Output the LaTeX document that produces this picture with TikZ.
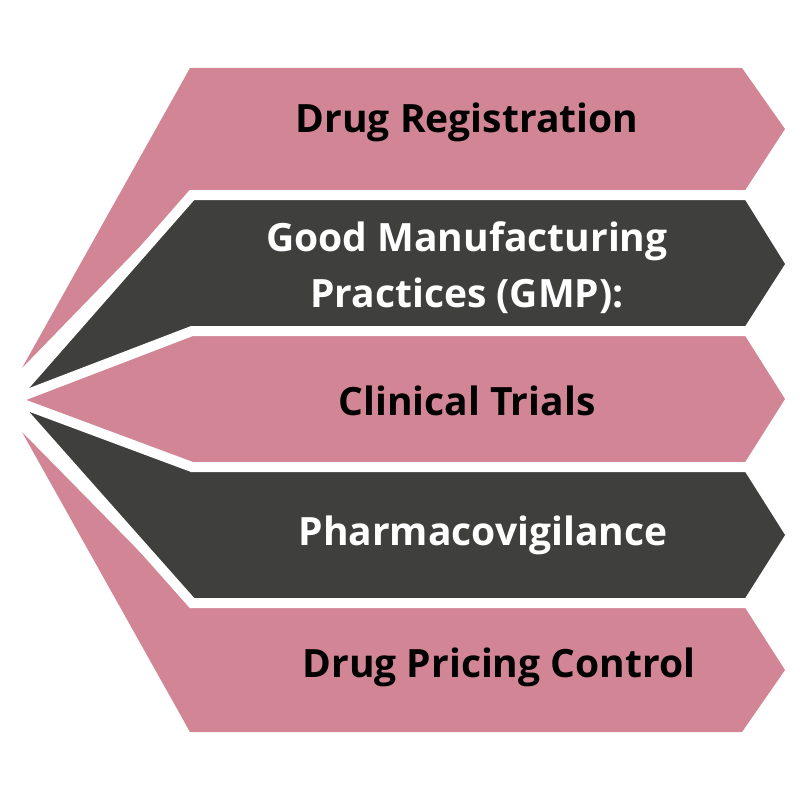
\documentclass[tikz,border=0pt]{standalone}
\usepackage{fontspec}
\setmainfont{Open Sans}
\definecolor{pk}{HTML}{D28695}
\definecolor{dk}{HTML}{3F3F3E}
\begin{document}
\begin{tikzpicture}[x=1pt,y=-1pt,
  lbl/.style={font=\bfseries\fontsize{39}{56}\selectfont,align=center}]
\useasboundingbox (0,0) rectangle (800,800);
\coordinate (apex) at (12,400);
\fill[pk] (22,368) -- (190,68) -- (742,68) -- (785,129) -- (742,195) -- (190,195) -- cycle;
\fill[dk] (apex) -- (190,195) -- (742,195) -- (785,264) -- (742,331) -- (190,331) -- cycle;
\fill[pk] (apex) -- (190,331) -- (742,331) -- (785,399) -- (742,467) -- (190,467) -- cycle;
\fill[dk] (apex) -- (190,467) -- (742,467) -- (785,535) -- (742,603) -- (190,603) -- cycle;
\fill[pk] (22,432) -- (190,603) -- (742,603) -- (785,670) -- (742,732) -- (190,732) -- cycle;
\foreach \b in {195,331,467,603}
  \draw[white,line width=10pt,line join=miter] (apex) -- (192,\b) -- (805,\b);
\node[lbl,text=black] (n1) at (467,122) {Drug Registration};
\node[lbl,text=white] (n2) at (467,268) {Good Manufacturing\\Practices (GMP):};
\node[lbl,text=black] (n3) at (467,401) {Clinical Trials};
\node[lbl,text=white] (n4) at (483,535) {Pharmacovigilance};
\node[lbl,text=black] (n5) at (499,667) {Drug Pricing Control};
\end{tikzpicture}
\end{document}
